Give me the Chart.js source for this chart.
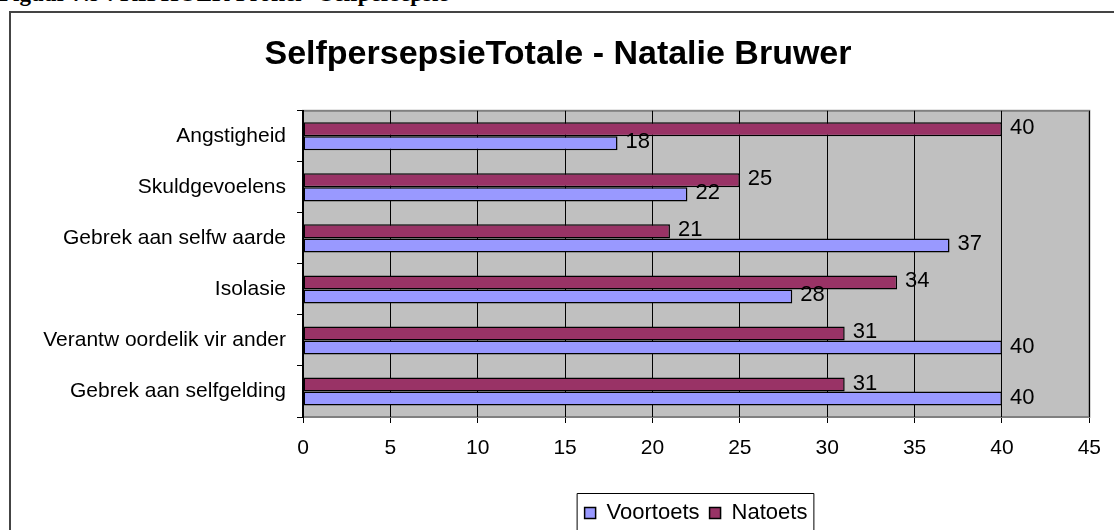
<!DOCTYPE html>
<html>
<head>
<meta charset="utf-8">
<script src="https://cdn.jsdelivr.net/npm/chart.js@4"></script>
<style>
  html, body { margin:0; padding:0; background:#fff; overflow:hidden; }
  #wrap { position:relative; width:1114px; height:530px; overflow:hidden; }
  #caption { position:absolute; left:-1px; top:-17px; font:bold 23px "Liberation Serif", "Times New Roman", serif; line-height:22px; white-space:nowrap; color:#000; }
  #frame { position:absolute; left:9px; top:11px; width:1120px; height:540px; border:2px solid #444; box-sizing:border-box; }
  #chart { position:absolute; left:0; top:0; }
</style>
</head>
<body>
<div id="wrap">
  <div id="caption">Figuur 7.9 : KIPHOEK Profiel - Selfpersepsie</div>
  <div id="frame"></div>
  <canvas id="chart" width="1114" height="534"></canvas>
</div>
<script>
// categories top to bottom
const categories = ['Angstigheid', 'Skuldgevoelens', 'Gebrek aan selfw aarde', 'Isolasie', 'Verantw oordelik vir ander', 'Gebrek aan selfgelding'];
const voortoets = [18, 22, 37, 28, 40, 40];
const natoets   = [40, 25, 21, 34, 31, 31];
const xTicks = [0, 5, 10, 15, 20, 25, 30, 35, 40, 45];

const FONT = 'Arial, "Liberation Sans", sans-serif';

// gray plot background with a border
const plotBg = {
  id:'plotBg',
  beforeDraw(chart){
    const {ctx, chartArea:a} = chart;
    ctx.save();
    ctx.fillStyle = '#C0C0C0';
    ctx.fillRect(a.left, a.top, a.right-a.left, a.bottom-a.top);
    ctx.strokeStyle = '#808080';
    ctx.lineWidth = 2;
    ctx.strokeRect(a.left, a.top, a.right-a.left, a.bottom-a.top);
    ctx.restore();
  }
};

// value labels at bar ends
const barLabels = {
  id:'barLabels',
  afterDatasetsDraw(chart){
    const ctx = chart.ctx;
    ctx.save();
    ctx.font = '22px ' + FONT;
    ctx.fillStyle = '#000';
    ctx.textBaseline = 'middle';
    ctx.textAlign = 'left';
    chart.data.datasets.forEach((ds, i)=>{
      chart.getDatasetMeta(i).data.forEach((bar, j)=>{
        ctx.fillText(String(ds.data[j]), bar.x + 8, bar.y - 1);
      });
    });
    ctx.restore();
  }
};

// legend sits right of centre in the original, then gets a box round it
const legendBox = {
  id:'legendBox',
  afterLayout(chart){
    const lg = chart.legend;
    lg.left += 150;
    lg.right += 150;
    // title is centred on the whole frame, not on the padded area
    chart.titleBlock.left += 12;
    chart.titleBlock.right += 12;
  },
  afterDraw(chart){
    const hb = chart.legend.legendHitBoxes;
    if(!hb || !hb.length) return;
    const left = Math.min(...hb.map(h=>h.left)) - 8;
    const right = Math.max(...hb.map(h=>h.left + h.width)) + 6;
    const top = hb[0].top - 9;
    const ctx = chart.ctx;
    ctx.save();
    ctx.strokeStyle = '#000';
    ctx.lineWidth = 1;
    ctx.beginPath();
    ctx.moveTo(left+0.5, 540);
    ctx.lineTo(left+0.5, top+0.5);
    ctx.lineTo(right+0.5, top+0.5);
    ctx.lineTo(right+0.5, 540);
    ctx.stroke();
    ctx.restore();
  }
};

new Chart(document.getElementById('chart').getContext('2d'), {
  type:'bar',
  data:{
    labels: categories,
    datasets:[
      { label:'Natoets', data:natoets, backgroundColor:'#993366', borderColor:'#000', borderWidth:1.5, borderSkipped:false },
      { label:'Voortoets', data:voortoets, backgroundColor:'#9999FF', borderColor:'#000', borderWidth:1.5, borderSkipped:false }
    ]
  },
  options:{
    indexAxis:'y',
    responsive:false,
    animation:false,
    devicePixelRatio:1,
    categoryPercentage:0.55,
    barPercentage:1,
    layout:{ padding:{ left:0, right:22, top:0, bottom:0 } },
    scales:{
      x:{
        min:0, max:45,
        afterBuildTicks(axis){ axis.ticks = xTicks.map(v=>({value:v})); },
        afterFit(axis){ axis.height = 75; },
        grid:{ color:'#000', lineWidth:1, drawTicks:true, tickLength:6, tickColor:'#000' },
        border:{ display:true, color:'#808080', width:1 },
        ticks:{ color:'#000', font:{ family:FONT, size:21 }, padding:13, maxRotation:0 }
      },
      y:{
        afterFit(axis){ axis.width = 303; },
        grid:{ drawOnChartArea:false, drawTicks:true, tickLength:6, tickColor:'#000', offset:true },
        border:{ display:true, color:'#000', width:2 },
        ticks:{ color:'#000', font:{ family:FONT, size:21 }, padding:11 }
      }
    },
    plugins:{
      title:{
        display:true,
        text:'SelfpersepsieTotale - Natalie Bruwer',
        color:'#000',
        font:{ family:FONT, size:34, weight:'bold', lineHeight:1.2 },
        padding:{ top:34, bottom:36 }
      },
      legend:{
        display:true,
        position:'bottom',
        reverse:true,
        labels:{ color:'#000', font:{ family:FONT, size:22 }, boxWidth:11, boxHeight:11, padding:10 }
      },
      tooltip:{ enabled:false }
    }
  },
  plugins:[plotBg, barLabels, legendBox]
});
</script>
</body>
</html>
